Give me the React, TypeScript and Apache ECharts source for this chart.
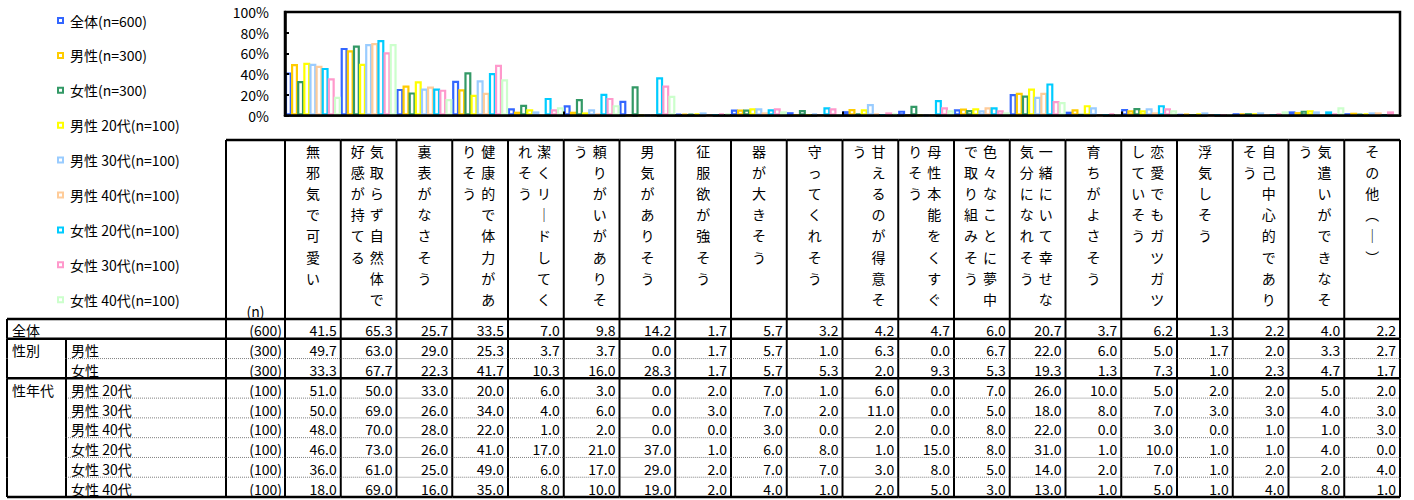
import React, { useEffect, useRef } from 'react';
import * as echarts from 'echarts';

const FONT = '"Noto Sans CJK JP", "Noto Sans", sans-serif';

const categories = [
  '無邪気で可愛い',
  '気取らず自然体で好感が持てる',
  '裏表がなさそう',
  '健康的で体力がありそう',
  '潔くリードしてくれそう',
  '頼りがいがありそう',
  '男気がありそう',
  '征服欲が強そう',
  '器が大きそう',
  '守ってくれそう',
  '甘えるのが得意そう',
  '母性本能をくすぐりそう',
  '色々なことに夢中で取り組みそう',
  '一緒にいて幸せな気分になれそう',
  '育ちがよさそう',
  '恋愛でもガツガツしていそう',
  '浮気しそう',
  '自己中心的でありそう',
  '気遣いができなそう',
  'その他（ー）',
];

const seriesNames = [
  '全体(n=600)',
  '男性(n=300)',
  '女性(n=300)',
  '男性 20代(n=100)',
  '男性 30代(n=100)',
  '男性 40代(n=100)',
  '女性 20代(n=100)',
  '女性 30代(n=100)',
  '女性 40代(n=100)',
];

const seriesColors = ['#3366FF', '#FFCC00', '#339966', '#FFFF00', '#99CCFF', '#FFCC99', '#00CCFF', '#FF99CC', '#CCFFCC'];

const rowLabels = ['全体', '男性', '女性', '男性 20代', '男性 30代', '男性 40代', '女性 20代', '女性 30代', '女性 40代'];
const groupLabels = ['', '性別', '', '性年代', '', '', '', '', ''];
const sampleSizes = [600, 300, 300, 100, 100, 100, 100, 100, 100];
const thickBottomRows = [0, 2, 8];

const total = [41.5, 65.3, 25.7, 33.5, 7.0, 9.8, 14.2, 1.7, 5.7, 3.2, 4.2, 4.7, 6.0, 20.7, 3.7, 6.2, 1.3, 2.2, 4.0, 2.2];
const male = [49.7, 63.0, 29.0, 25.3, 3.7, 3.7, 0.0, 1.7, 5.7, 1.0, 6.3, 0.0, 6.7, 22.0, 6.0, 5.0, 1.7, 2.0, 3.3, 2.7];
const female = [33.3, 67.7, 22.3, 41.7, 10.3, 16.0, 28.3, 1.7, 5.7, 5.3, 2.0, 9.3, 5.3, 19.3, 1.3, 7.3, 1.0, 2.3, 4.7, 1.7];
const male20s = [51.0, 50.0, 33.0, 20.0, 6.0, 3.0, 0.0, 2.0, 7.0, 1.0, 6.0, 0.0, 7.0, 26.0, 10.0, 5.0, 2.0, 2.0, 5.0, 2.0];
const male30s = [50.0, 69.0, 26.0, 34.0, 4.0, 6.0, 0.0, 3.0, 7.0, 2.0, 11.0, 0.0, 5.0, 18.0, 8.0, 7.0, 3.0, 3.0, 4.0, 3.0];
const male40s = [48.0, 70.0, 28.0, 22.0, 1.0, 2.0, 0.0, 0.0, 3.0, 0.0, 2.0, 0.0, 8.0, 22.0, 0.0, 3.0, 0.0, 1.0, 1.0, 3.0];
const female20s = [46.0, 73.0, 26.0, 41.0, 17.0, 21.0, 37.0, 1.0, 6.0, 8.0, 1.0, 15.0, 8.0, 31.0, 1.0, 10.0, 1.0, 1.0, 4.0, 0.0];
const female30s = [36.0, 61.0, 25.0, 49.0, 6.0, 17.0, 29.0, 2.0, 7.0, 7.0, 3.0, 8.0, 5.0, 14.0, 2.0, 7.0, 1.0, 2.0, 2.0, 4.0];
const female40s = [18.0, 69.0, 16.0, 35.0, 8.0, 10.0, 19.0, 2.0, 4.0, 1.0, 2.0, 5.0, 3.0, 13.0, 1.0, 5.0, 1.0, 4.0, 8.0, 1.0];

const rows = [total, male, female, male20s, male30s, male40s, female20s, female30s, female40s];

const VERTICAL_FORMS: Record<string, string> = { 'ー': '｜', '（': '︵', '）': '︶' };

function toColumns(label: string): string[] {
  const chars = Array.from(label).map((ch) => VERTICAL_FORMS[ch] ?? ch);
  const cols: string[] = [];
  for (let i = 0; i < chars.length; i += 8) cols.push(chars.slice(i, i + 8).join('\n'));
  return cols;
}

// layout constants
const HEAD_TOP = 140;
const X_OUTER = 7;
const X_GROUP = 66;
const X_N = 226;

const THICK = { stroke: '#000', lineWidth: 2 };
const THICK_H = { stroke: '#000', lineWidth: 2.5 };
const DOTTED = { stroke: '#808080', lineWidth: 1, lineDash: [1, 1] };

function txt(text: string, x: number, y: number, align: string, extra: any = {}) {
  return {
    type: 'text',
    z2: 20,
    style: {
      text,
      x,
      y,
      align,
      textAlign: align,
      verticalAlign: 'middle',
      textVerticalAlign: 'middle',
      fill: '#000',
      fontSize: 14,
      fontFamily: FONT,
      ...extra,
    },
  };
}

function ln(x1: number, y1: number, x2: number, y2: number, style: any, z2 = 5) {
  return { type: 'line', z2, shape: { x1, y1, x2, y2 }, style };
}

export default function App() {
  const ref = useRef<HTMLDivElement>(null);

  useEffect(() => {
    if (!ref.current) return;
    const chart = echarts.init(ref.current, undefined, { renderer: 'svg' });

    const tableData: number[][] = [];
    rows.forEach((row, r) => row.forEach((v, c) => tableData.push([c, r, v])));

    const renderItem = (_params: any, api: any) => {
      const c = api.value(0) as number;
      const r = api.value(1) as number;
      const v = api.value(2) as number;
      const center = api.coord([c, r]);
      const size = api.size([1, 1]) as number[];
      const w = size[0];
      const h = size[1];
      const x0 = center[0] - w / 2;
      const x1 = center[0] + w / 2;
      const y0 = center[1] - h / 2;
      const y1 = center[1] + h / 2;
      const ty = center[1] + 1.5;
      const thickBottom = thickBottomRows.indexOf(r) >= 0;
      const children: any[] = [];

      children.push(txt(v.toFixed(1), x1 - 4, ty, 'right'));
      children.push(ln(x0, y1, x1, y1, thickBottom ? THICK_H : DOTTED, thickBottom ? 10 : 4));
      children.push(ln(x1, y0, x1, y1, THICK, 8));

      if (r === 0) {
        children.push(ln(x0, y0, x1, y0, THICK_H, 10));
        // header cell
        children.push(ln(x0, HEAD_TOP, x1, HEAD_TOP, THICK_H, 10));
        children.push(ln(x1, HEAD_TOP, x1, y0, THICK, 8));
        const cols = toColumns(categories[c]);
        const offsets = cols.length === 1 ? [0] : [8, -11];
        cols.forEach((colText, i) => {
          children.push(
            txt(colText, center[0] + offsets[i], HEAD_TOP, 'center', {
              verticalAlign: 'top',
              textVerticalAlign: 'top',
              lineHeight: 21.2,
            })
          );
        });
      }

      if (c === 0) {
        // left part of the table
        children.push(ln(x0, y0, x0, y1, THICK, 8));
        children.push(ln(X_N, y0, X_N, y1, THICK, 8));
        children.push(ln(X_OUTER, y0, X_OUTER, y1, THICK, 8));
        if (r >= 1) children.push(ln(X_GROUP, y0, X_GROUP, y1, THICK, 8));
        if (thickBottom) children.push(ln(X_OUTER, y1, x0, y1, THICK_H, 10));
        else children.push(ln(X_GROUP, y1, x0, y1, DOTTED, 4));
        children.push(txt(rowLabels[r], r === 0 ? 12 : 71, ty, 'left'));
        if (groupLabels[r]) children.push(txt(groupLabels[r], 12, ty, 'left'));
        children.push(txt('(' + sampleSizes[r] + ')', x0 - 3, ty, 'right'));
        if (r === 0) {
          children.push(ln(X_OUTER, y0, x0, y0, THICK_H, 10));
          children.push(ln(X_N, HEAD_TOP, x0, HEAD_TOP, THICK_H, 10));
          children.push(ln(X_N, HEAD_TOP, X_N, y0, THICK, 8));
          children.push(ln(x0, HEAD_TOP, x0, y0, THICK, 8));
          children.push(txt('(n)', (X_N + x0) / 2, y0 - 8, 'center'));
        }
      }
      return { type: 'group', children };
    };

    const option: any = {
      animation: false,
      textStyle: { fontFamily: FONT },
      legend: {
        data: seriesNames,
        orient: 'vertical',
        left: 57,
        top: 13.5,
        padding: 0,
        itemWidth: 5,
        itemHeight: 5,
        itemGap: 20.9,
        icon: 'rect',
        itemStyle: { borderWidth: 2 },
        textStyle: { fontSize: 14, lineHeight: 14, color: '#000', fontFamily: FONT, padding: [0, 0, 0, 2] },
      },
      grid: [
        { left: 285, top: 12, width: 1115, height: 103.5, show: true, borderColor: '#000', borderWidth: 2.5, backgroundColor: 'transparent' },
        { left: 285, top: 319, width: 1115, height: 178, show: false },
      ],
      xAxis: [
        {
          type: 'category',
          gridIndex: 0,
          data: categories,
          z: 5,
          axisLine: { show: true, lineStyle: { color: '#000', width: 2.5 } },
          axisTick: { show: true, inside: true, length: 4, lineStyle: { color: '#000', width: 2 } },
          axisLabel: { show: false },
          splitLine: { show: false },
        },
        {
          type: 'category',
          gridIndex: 1,
          data: categories,
          axisLine: { show: false },
          axisTick: { show: false },
          axisLabel: { show: false },
          splitLine: { show: false },
        },
      ],
      yAxis: [
        {
          type: 'value',
          gridIndex: 0,
          min: 0,
          max: 100,
          interval: 20,
          z: 5,
          axisLine: { show: true, lineStyle: { color: '#000', width: 2.5 } },
          axisTick: { show: true, inside: true, length: 4, lineStyle: { color: '#000', width: 2 } },
          axisLabel: { formatter: '{value}%', fontSize: 14, color: '#000', margin: 16, fontFamily: FONT },
          splitLine: { show: false },
        },
        {
          type: 'category',
          gridIndex: 1,
          inverse: true,
          data: rowLabels,
          axisLine: { show: false },
          axisTick: { show: false },
          axisLabel: { show: false },
          splitLine: { show: false },
        },
      ],
      series: [
        ...seriesNames.map((name, i) => ({
          type: 'bar',
          name,
          xAxisIndex: 0,
          yAxisIndex: 0,
          data: rows[i],
          barWidth: 7,
          barGap: '-12.5%',
          itemStyle: { color: '#ffffff', borderColor: seriesColors[i], borderWidth: 2.2 },
        })),
        {
          type: 'custom',
          name: 'table',
          xAxisIndex: 1,
          yAxisIndex: 1,
          data: tableData,
          encode: { x: 0, y: 1 },
          clip: false,
          renderItem,
        },
      ],
    };

    chart.setOption(option);
    return () => chart.dispose();
  }, []);

  return (
    <div
      ref={ref}
      style={{ position: 'absolute', left: 0, top: 0, width: 1414, height: 500, background: '#fff' }}
    />
  );
}
